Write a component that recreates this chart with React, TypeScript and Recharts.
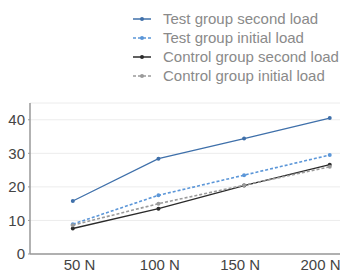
import React from 'react';
import { LineChart, Line, XAxis, YAxis, CartesianGrid } from 'recharts';

const loads = [50, 100, 150, 200];
const loadLabels = ['50 N', '100 N', '150 N', '200 N'];
const testSecond = [15.8, 28.4, 34.4, 40.5];
const testInitial = [8.9, 17.5, 23.5, 29.5];
const controlSecond = [7.6, 13.5, 20.4, 26.6];
const controlInitial = [8.6, 15.0, 20.5, 26.0];
const yTicks = [0, 10, 20, 30, 40];

const seriesNames = [
  'Test group second load',
  'Test group initial load',
  'Control group second load',
  'Control group initial load',
];

const data = loads.map((x, i) => ({
  x,
  label: loadLabels[i],
  ts: testSecond[i],
  ti: testInitial[i],
  cs: controlSecond[i],
  ci: controlInitial[i],
}));

const series = [
  { key: 'ts', name: seriesNames[0], color: '#3f70aa', dash: undefined as string | undefined },
  { key: 'ti', name: seriesNames[1], color: '#5b96d8', dash: '3 2' },
  { key: 'cs', name: seriesNames[2], color: '#2b2b2b', dash: undefined },
  { key: 'ci', name: seriesNames[3], color: '#9a9a9a', dash: '3 2' },
];

const fontFamily = '"Liberation Sans", Arial, sans-serif';

export default function App() {
  return (
    <div style={{ position: 'absolute', left: 0, top: 0, width: 340, height: 274, overflow: 'hidden', background: '#fff' }}>
      <div style={{ position: 'absolute', left: 133, top: 9, fontFamily, fontSize: 15, color: '#8a8a8a' }}>
        {series.map((s) => (
          <div key={s.key} style={{ display: 'flex', alignItems: 'center', height: 19 }}>
            <svg width={18} height={10} style={{ marginRight: 12 }}>
              <line x1={0} y1={5} x2={18} y2={5} stroke={s.color} strokeWidth={1.5} strokeDasharray={s.dash} />
              <circle cx={9} cy={5} r={2} fill={s.color} />
            </svg>
            <span style={{ whiteSpace: 'nowrap', lineHeight: '19px' }}>{s.name}</span>
          </div>
        ))}
      </div>
      <LineChart width={340} height={274} data={data} margin={{ top: 103, right: 0, left: 0, bottom: 0 }}>
        <CartesianGrid horizontal vertical={false} stroke="#ececec" xAxisId="lab" />
        <XAxis
          xAxisId="pts"
          dataKey="x"
          type="number"
          domain={[25, 206]}
          allowDataOverflow
          hide
        />
        <XAxis
          xAxisId="lab"
          dataKey="x"
          type="number"
          domain={[19.2, 212.1]}
          allowDataOverflow
          ticks={loads}
          tickFormatter={(v: number) => loadLabels[loads.indexOf(v)]}
          height={20}
          tickSize={0}
          tickMargin={5}
          axisLine={{ stroke: '#999', strokeWidth: 1.5 }}
          tick={{ fill: '#444', fontSize: 15, fontFamily }}
        />
        <YAxis
          domain={[0, 45]}
          ticks={yTicks}
          width={30}
          tickSize={2}
          tickMargin={3}
          tickLine={{ stroke: '#999' }}
          axisLine={{ stroke: '#999', strokeWidth: 1.5 }}
          tick={{ fill: '#444', fontSize: 15, fontFamily }}
        />
        {series.map((s) => (
          <Line
            key={s.key}
            xAxisId="pts"
            dataKey={s.key}
            name={s.name}
            stroke={s.color}
            strokeWidth={s.dash ? 1.6 : 1.3}
            strokeDasharray={s.dash}
            dot={{ r: 2, fill: s.color, stroke: s.color, strokeWidth: 0, strokeDasharray: '' }}
            isAnimationActive={false}
          />
        ))}
      </LineChart>
    </div>
  );
}
